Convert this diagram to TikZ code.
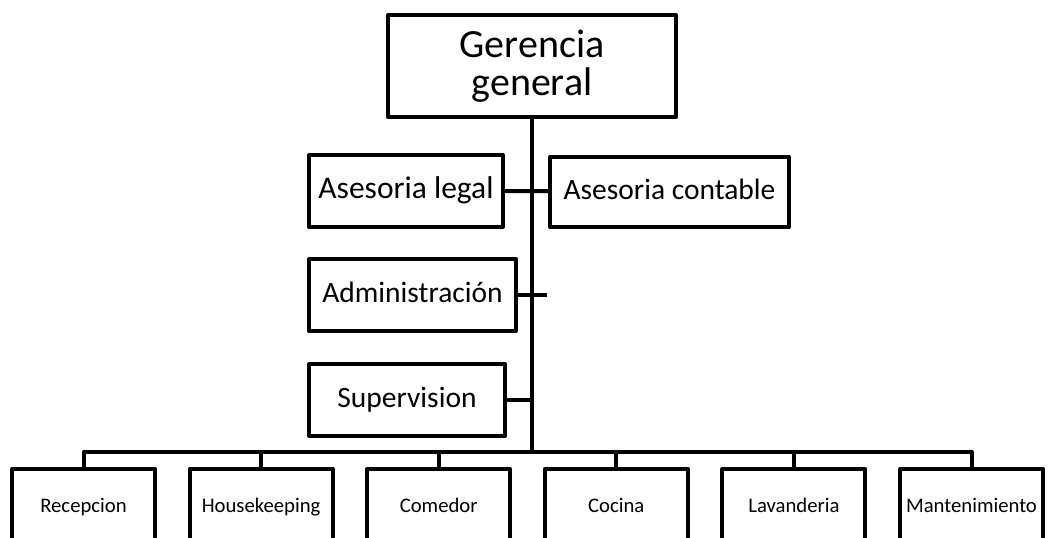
\documentclass[tikz,border=0pt]{standalone}
\usepackage{fontspec}
\setmainfont{Carlito}
\begin{document}
\begin{tikzpicture}[x=1pt,y=-1pt,line width=4pt,line join=round,
caja/.style={draw,line width=4pt,inner sep=0,align=center},
grande/.style={caja,font=\fontsize{40}{38}\selectfont},
media/.style={caja,text height=20pt,text depth=6pt,minimum height=72pt,font=\fontsize{29.5}{34}\selectfont},
chica/.style={caja,text height=14pt,text depth=2pt,minimum width=143pt,minimum height=74pt,font=\fontsize{20.7}{24}\selectfont}]
\clip(0,0)rectangle(1050,538);
\node[grande,minimum width=288pt,minimum height=102pt](ger)at(532,66){Gerencia\\general};
\node[media,minimum width=194pt,font=\fontsize{31.5}{36}\selectfont](legal)at(406,191){Asesoria legal};
\node[media,minimum width=239pt,minimum height=70pt](contable)at(669.5,192){Asesoria contable};
\node[media,minimum width=207pt](adm)at(412.5,295){Administración};
\node[media,minimum width=196pt](sup)at(407,400){Supervision};
\coordinate(bus)at(532,452);
\coordinate(stub)at(547,295);
\draw(ger)--(bus);
\draw(legal)--(legal-|bus)--(contable);
\draw(adm)--(stub);
\draw(sup)--(sup-|bus);
% areas operativas
\foreach \n[count=\i from 0] in {Recepcion,Housekeeping,Comedor,Cocina,Lavanderia,Mantenimiento}{
\node[chica](u\i)at(83.5+177.6*\i,506){\n};
\draw(u\i.north)|-(bus);
}
\end{tikzpicture}
\end{document}
